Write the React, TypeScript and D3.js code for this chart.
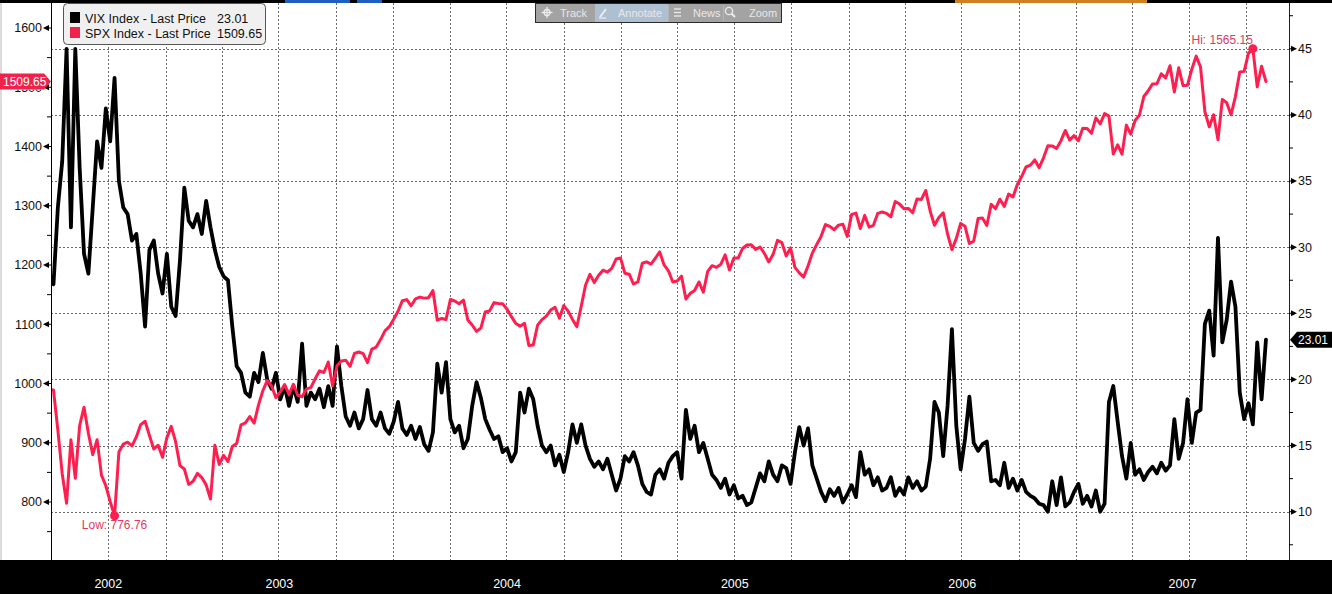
import React from "react";
import * as d3 from "d3";

// Weekly (Friday) observations starting 2002-06-28
const firstWeek = new Date(2002, 5, 28);

const vixValues = [
  28, 27.2, 33, 36.5, 45, 31.5, 45, 36, 29.5, 28,
  33, 38, 36, 40.5, 38, 42.8, 35, 33, 32.5, 30.5,
  31, 28, 24, 29.8, 30.5, 28, 26.5, 29.5, 25.5, 24.8,
  29, 34.5, 32, 31.5, 32.5, 31, 33.5, 31.5, 29.8, 28.5,
  27.8, 27.5, 24, 21, 20.5, 19, 18.7, 20.5, 19.8, 22,
  20, 19.3, 20.5, 18.5, 19.5, 18, 19.5, 18.3, 22.7, 18,
  19, 18.5, 19.3, 17.9, 19.5, 18, 22.5, 19.5, 17.2, 16.5,
  17.5, 16.3, 17, 19.2, 17, 16.5, 17.5, 16.3, 15.9, 16.8,
  18.3, 16.3, 15.8, 16.5, 15.5, 16.4, 15.1, 14.6, 16, 21.2,
  19, 21.3, 17, 16, 16.5, 14.8, 15.5, 18, 19.8, 18.6,
  17, 16.2, 15.5, 15.7, 14.5, 14.8, 13.8, 14.5, 19, 17.5,
  19.3, 18.5, 16.5, 15, 14.5, 15, 13.5, 14.3, 13, 14.5,
  16.6, 15.2, 16.6, 15, 14, 13.4, 13.8, 13.2, 14, 12.8,
  11.6, 12.5, 14.2, 13.8, 14.5, 13.5, 12.1, 11.5, 11.3, 12.8,
  13.2, 12.5, 13.7, 14.2, 14.5, 12.5, 17.7, 15.5, 16.5, 14.5,
  15.2, 14, 12.8, 12.4, 11.8, 12.5, 11.3, 12, 11, 11.2,
  10.5, 10.7, 11.8, 12.9, 12.3, 13.8, 12.8, 12.3, 13.5, 13.3,
  12.1, 14.5, 16.4, 15, 16.3, 13.5, 12.5, 11.5, 10.8, 11.7,
  11.2, 11.8, 10.7, 11.3, 12.0, 11.1, 14.5, 12.8, 13.2, 12.0,
  12.6, 11.6, 11.8, 12.6, 11.2, 11.8, 11.3, 12.6, 11.8, 12.3,
  11.6, 11.9, 14, 18.3, 17.5, 14.2, 18, 23.8, 16.5, 13.2,
  15.5, 18.7, 15.2, 14.6, 15.1, 15.3, 12.3, 12.4, 12.0, 13.7,
  11.8, 12.5, 11.6, 12.4, 11.5, 11.2, 11.0, 10.6, 10.5, 10.0,
  12.3, 10.5, 12.6, 10.4, 10.7, 11.5, 12.1, 10.6, 11.2, 10.4,
  11.6, 10.0, 10.6, 18.3, 19.5, 16.8, 14.2, 12.5, 15.2, 12.8,
  13.2, 12.4, 13.0, 13.4, 12.9, 13.7, 13.1, 13.5, 17.0, 14,
  15.2, 18.5, 15.2, 17.5, 17.7, 24.2, 25.2, 21.8, 30.7, 22.8,
  24.5, 27.4, 25.5, 19.0, 17.0, 18.2, 16.6, 22.8, 18.5, 23.01,
];

const spxValues = [
  989.8, 989.0, 921.4, 847.8, 798, 905, 840, 928.8, 960, 916.1,
  880, 905, 845.4, 827.4, 800.6, 776.76, 884.4, 897.7, 901.0, 894.7,
  909.8, 930.6, 936.3, 912.2, 889.5, 895.8, 875.4, 908.6, 927.6, 901.8,
  861.4, 855.7, 829.7, 834.9, 848.2, 841.2, 828.9, 805, 895.8, 863.5,
  878.9, 868.3, 893.6, 898.8, 930.1, 933.4, 944.3, 933.2, 963.6, 987.8,
  1005, 995.7, 976.2, 985.7, 998.1, 981.6, 998.7, 980.2, 977.6, 990.7,
  993.1, 1008.0, 1021.4, 1018.6, 1036.3, 996.0, 1029.9, 1038.1, 1039.3, 1028.9,
  1050.7, 1053.2, 1050.4, 1035.3, 1058.2, 1061.5, 1074.1, 1088.7, 1095.9, 1108.5,
  1121.9, 1139.8, 1141.6, 1131.1, 1142.8, 1145.8, 1144.1, 1144.9, 1156.9, 1106.8,
  1109.8, 1108.1, 1141.8, 1139.3, 1134.6, 1140.6, 1107.3, 1098.7, 1088, 1093.6,
  1120.7, 1122.5, 1136.5, 1135.0, 1134.4, 1125.4, 1112.8, 1101.4, 1096.8, 1101.7,
  1064.0, 1064.8, 1098.4, 1107.8, 1113.6, 1123.9, 1128.6, 1110.1, 1131.5, 1122.1,
  1108.2, 1095.7, 1130.2, 1166.2, 1184.2, 1170.3, 1182.7, 1191.2, 1188.0, 1194.2,
  1210.1, 1211.9, 1186.2, 1184.5, 1167.9, 1171.4, 1203.0, 1205.3, 1201.6, 1211.4,
  1222.1, 1200.1, 1190.2, 1171.4, 1172.9, 1181.2, 1142.6, 1152.1, 1156.9, 1171.4,
  1154.1, 1189.3, 1198.8, 1196.0, 1200.9, 1217.0, 1191.6, 1211.9, 1211.9, 1227.9,
  1233.7, 1234.2, 1226.4, 1230.4, 1219.7, 1205.1, 1218.0, 1241.5, 1237.9, 1215.3,
  1228.8, 1195.9, 1186.6, 1179.6, 1198.4, 1220.1, 1234.7, 1248.3, 1268.3, 1265.1,
  1259.4, 1267.3, 1268.7, 1248.3, 1285.5, 1287.6, 1261.5, 1283.7, 1264.0, 1267.0,
  1287.2, 1289.4, 1287.2, 1281.4, 1307.3, 1303.0, 1294.8, 1295.5, 1288.1, 1311.3,
  1310.6, 1325.8, 1291.2, 1267.0, 1280.2, 1288.2, 1252.3, 1226, 1244.5, 1270.2,
  1265.5, 1236.2, 1240.3, 1278.6, 1279.4, 1266.7, 1302.3, 1295.1, 1311.0, 1298.9,
  1319.7, 1314.8, 1335.9, 1349.6, 1365.6, 1368.6, 1377.3, 1364.3, 1380.9, 1401.2,
  1401.0, 1396.7, 1409.8, 1427.1, 1410.8, 1418.3, 1409.7, 1430.7, 1430.5, 1422.2,
  1448.4, 1438.1, 1455.5, 1451.2, 1387.2, 1402.8, 1387.0, 1436.1, 1420.9, 1443.8,
  1452.9, 1484.4, 1494.1, 1505.6, 1505.9, 1522.8, 1515.7, 1536.3, 1492, 1532.9,
  1502.6, 1503.4, 1530.4, 1552.5, 1534.1, 1459.0, 1433.1, 1453.6, 1411.3, 1479.4,
  1474.0, 1453.6, 1484.3, 1525.8, 1526.8, 1557.6, 1565.15, 1500.6, 1535.3, 1509.65,
];

const spxTicks = [800, 900, 1000, 1100, 1200, 1300, 1400, 1500, 1600];
const spxMinorTicks = [750, 850, 950, 1050, 1150, 1250, 1350, 1450, 1550];
const vixTicks = [10, 15, 20, 25, 30, 35, 40, 45];
const vixMinorTicks = [7.5, 12.5, 17.5, 22.5, 27.5, 32.5, 37.5, 42.5, 47.5];
const years = [2002, 2003, 2004, 2005, 2006, 2007];
const seriesNames = ["VIX Index - Last Price", "SPX Index - Last Price"];

const W = 1332;
const H = 594;
const L = 51;
const R = 1289;
const T = 3;
const B = 560;
const RED = "#ff1f4f";
const FONT = "'Liberation Sans', Arial, sans-serif";

export default function App() {
  const dates = vixValues.map((_, i) => d3.timeDay.offset(firstWeek, 7 * i));
  const x = d3
    .scaleTime()
    .domain([new Date(2002, 6, 1), new Date(2007, 11, 9)])
    .range([L, R]);
  const ySpx = d3.scaleLinear().domain([800, 1600]).range([502, 28]);
  const yVix = d3.scaleLinear().domain([10, 45]).range([511.7, 48.8]);

  const vixLine = d3
    .line<number>()
    .x((_, i) => x(dates[i]))
    .y((d) => yVix(d));
  const spxLine = d3
    .line<number>()
    .x((_, i) => x(dates[i]))
    .y((d) => ySpx(d));

  const [d0, d1] = x.domain();
  const quarterLines = d3.timeMonth
    .every(3)!
    .range(d3.timeDay.offset(d0, 1), d1)
    .map((d) => x(d));

  const yearCenters = years.map((yr) => {
    const s = Math.max(+d0, +new Date(yr, 0, 1));
    const e = Math.min(+d1, +new Date(yr + 1, 0, 1));
    return { yr, cx: (x(new Date(s)) + x(new Date(e))) / 2 };
  });

  const lastVix = vixValues[vixValues.length - 1];
  const lastSpx = spxValues[spxValues.length - 1];
  const hiIdx = d3.maxIndex(spxValues);
  const loIdx = d3.minIndex(spxValues);
  const hiX = x(dates[hiIdx]);
  const hiY = ySpx(spxValues[hiIdx]);
  const loX = x(dates[loIdx]);
  const loY = ySpx(spxValues[loIdx]);
  const spxTagY = ySpx(lastSpx);
  const vixTagY = yVix(lastVix);

  return (
    <div style={{ position: "fixed", left: 0, top: 0 }}>
      <svg width={W} height={H} style={{ display: "block", fontFamily: FONT }}>
        <defs>
          <clipPath id="plot">
            <rect x={L} y={T} width={R - L} height={B - T} />
          </clipPath>
          <clipPath id="lefttag">
            <rect x={0} y={spxTagY + 8} width={L} height={20} />
          </clipPath>
        </defs>
        <rect x={0} y={0} width={W} height={H} fill="#ffffff" />
        <rect x={0} y={T} width={2} height={B - T} fill="#dcdcdc" />

        {/* grid */}
        <g stroke="#6a6a6a" strokeWidth={1} strokeDasharray="2,2">
          {vixTicks.map((t) => (
            <line key={"h" + t} x1={L} x2={R} y1={Math.round(yVix(t)) + 0.5} y2={Math.round(yVix(t)) + 0.5} />
          ))}
          {quarterLines.map((qx, i) => (
            <line key={"v" + i} x1={Math.round(qx) + 0.5} x2={Math.round(qx) + 0.5} y1={T} y2={B} />
          ))}
        </g>

        {/* series */}
        <g clipPath="url(#plot)" fill="none" strokeLinejoin="round" strokeLinecap="round">
          <path d={vixLine(vixValues) || ""} stroke="#000000" strokeWidth={3.8} />
          <path d={spxLine(spxValues) || ""} stroke={RED} strokeWidth={3} />
        </g>

        {/* hi / low markers */}
        <circle cx={hiX} cy={hiY} r={4.5} fill={RED} />
        <circle cx={loX} cy={loY} r={4.5} fill={RED} />
        <text x={hiX} y={hiY - 5} textAnchor="end" fontSize={12} fill="#e03a62">
          {"Hi: " + spxValues[hiIdx].toFixed(2)}
        </text>
        <text x={loX} y={loY + 13} textAnchor="middle" fontSize={12} fill="#e03a62">
          {"Low: " + spxValues[loIdx].toFixed(2)}
        </text>

        {/* left axis */}
        <line x1={L + 0.5} x2={L + 0.5} y1={T} y2={B} stroke="#000" />
        {spxMinorTicks.map((t) =>
          ySpx(t) > T && ySpx(t) < B ? (
            <line key={"lm" + t} x1={L - 4} x2={L} y1={ySpx(t)} y2={ySpx(t)} stroke="#000" />
          ) : null
        )}
        {spxTicks.map((t) => {
          const yy = ySpx(t);
          const hidden = Math.abs(yy - spxTagY) < 12;
          return (
            <g key={"lt" + t}>
              <polygon points={`${L - 8},${yy} ${L - 2},${yy - 3} ${L - 2},${yy + 3}`} fill="#000" />
              <line x1={L - 3} x2={L} y1={yy} y2={yy} stroke="#000" />
              <text
                x={L - 9}
                y={yy}
                dy="0.35em"
                textAnchor="end"
                fontSize={12.5}
                fill="#111"
                clipPath={hidden ? "url(#lefttag)" : undefined}
              >
                {t}
              </text>
            </g>
          );
        })}

        {/* right axis */}
        <line x1={R + 0.5} x2={R + 0.5} y1={T} y2={B} stroke="#222" />
        {vixMinorTicks.map((t) =>
          yVix(t) > T && yVix(t) < B ? (
            <line key={"rm" + t} x1={R} x2={R + 4} y1={yVix(t)} y2={yVix(t)} stroke="#000" />
          ) : null
        )}
        {vixTicks.map((t) => {
          const yy = yVix(t);
          return (
            <g key={"rt" + t}>
              <line x1={R} x2={R + 3} y1={yy} y2={yy} stroke="#000" />
              <polygon points={`${R + 8},${yy} ${R + 2},${yy - 3} ${R + 2},${yy + 3}`} fill="#000" />
              <text x={R + 9} y={yy} dy="0.35em" textAnchor="start" fontSize={12.5} fill="#111">
                {t}
              </text>
            </g>
          );
        })}

        {/* last value tags */}
        <polygon
          points={`0,${spxTagY - 8} 44,${spxTagY - 8} 51,${spxTagY} 44,${spxTagY + 8} 0,${spxTagY + 8}`}
          fill="#f0224c"
        />
        <text x={3} y={spxTagY} dy="0.35em" fontSize={12} fill="#ffffff">
          {lastSpx.toFixed(2)}
        </text>
        <polygon
          points={`${R + 1},${vixTagY} ${R + 8},${vixTagY - 8} ${W},${vixTagY - 8} ${W},${vixTagY + 8} ${R + 8},${vixTagY + 8}`}
          fill="#000000"
        />
        <text x={R + 9} y={vixTagY} dy="0.35em" fontSize={12} fill="#ffffff">
          {lastVix.toFixed(2)}
        </text>

        {/* bottom band */}
        <rect x={0} y={B} width={W} height={H - B} fill="#000" />
        {yearCenters.map((d) => (
          <text key={d.yr} x={d.cx} y={588} textAnchor="middle" fontSize={12.5} fill="#ffffff">
            {d.yr}
          </text>
        ))}

        {/* top strip */}
        <rect x={0} y={0} width={W} height={T} fill="#000" />
        <rect x={285} y={0} width={65} height={T} fill="#1f5fc4" />
        <rect x={357} y={0} width={25} height={T} fill="#1f5fc4" />
        <rect x={955} y={0} width={192} height={T} fill="#d0801e" />

        {/* legend */}
        <rect x={63.5} y={3.5} width={202} height={41} rx={4} fill="#f0f0f0" stroke="#555" />
        <rect x={70} y={12} width={10} height={11} fill="#000" />
        <rect x={70} y={27} width={10} height={11} fill="#f0224c" />
        <text x={85} y={22.5} fontSize={12.5} fill="#111">{seriesNames[0]}</text>
        <text x={217} y={22.5} fontSize={12.5} fill="#111">{lastVix.toFixed(2)}</text>
        <text x={85} y={37.5} fontSize={12.5} fill="#111">{seriesNames[1]}</text>
        <text x={217} y={37.5} fontSize={12.5} fill="#111">{lastSpx.toFixed(2)}</text>

        {/* toolbar */}
        <g>
          <rect x={535.5} y={3.5} width={246} height={19} fill="#a3a3a3" stroke="#2a2a2a" />
          <rect x={595} y={4} width={73} height={18} fill="#aebfd2" />
          <line x1={668.5} x2={668.5} y1={5} y2={21} stroke="#b5b5b5" />
          <line x1={723.5} x2={723.5} y1={5} y2={21} stroke="#b5b5b5" />
          <g stroke="#ececec" strokeWidth={1.3} fill="none">
            <circle cx={547} cy={12.5} r={3} />
            <line x1={541.5} x2={552.5} y1={12.5} y2={12.5} />
            <line x1={547} x2={547} y1={7} y2={18} />
            <line x1={600} x2={606} y1={17} y2={9} strokeWidth={2} />
            <line x1={599} x2={606} y1={18} y2={18} />
            <line x1={674} x2={681} y1={9} y2={9} />
            <line x1={674} x2={681} y1={12.5} y2={12.5} />
            <line x1={674} x2={681} y1={16} y2={16} />
            <circle cx={729} cy={11} r={3.6} />
            <line x1={731.5} x2={735} y1={13.5} y2={17} strokeWidth={2} />
          </g>
          <g fontSize={11} fill="#e8e8e8">
            <text x={560} y={17}>Track</text>
            <text x={618} y={17}>Annotate</text>
            <text x={693} y={17}>News</text>
            <text x={749} y={17}>Zoom</text>
          </g>
        </g>
      </svg>
    </div>
  );
}
